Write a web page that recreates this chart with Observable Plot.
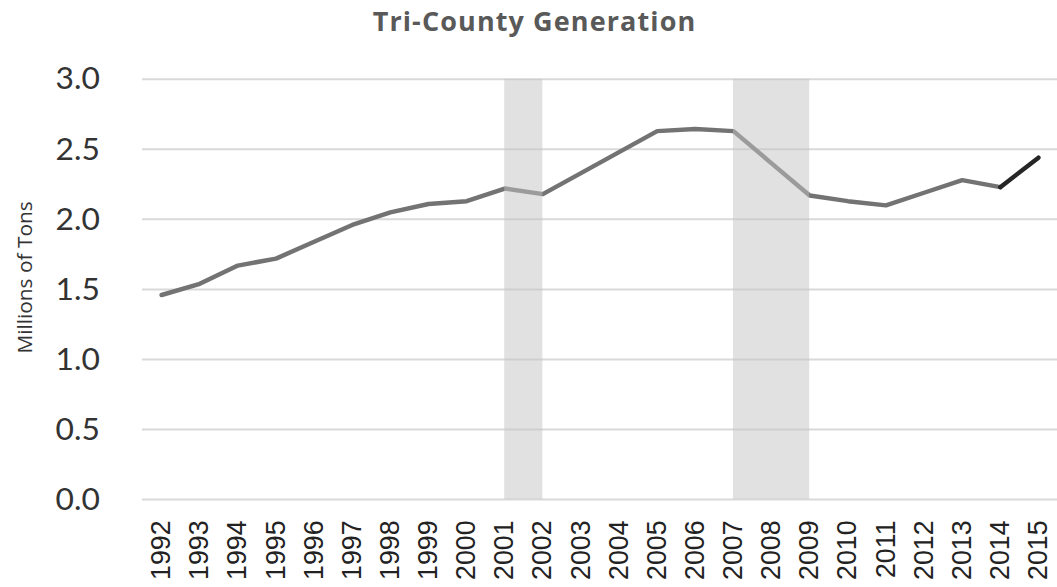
<!DOCTYPE html>
<html>
<head>
<meta charset="utf-8">
<script src="https://cdn.jsdelivr.net/npm/d3@7"></script>
<script src="https://cdn.jsdelivr.net/npm/@observablehq/plot@0.6"></script>
<style>
  body { margin: 0; background: #fff; }
  #wrap { width: 1057px; height: 587px; overflow: hidden; position: relative; }
  #title { height: 48px; line-height: 41px; text-align: center; padding-left: 12px; box-sizing: border-box;
           font-family: "Open Sans", sans-serif; font-weight: bold; font-size: 27px; letter-spacing: 1.1px; color: #595959; }
  svg [aria-label="y-axis tick label"] text { font-family: Lato, sans-serif; }
</style>
</head>
<body>
<div id="wrap">
  <div id="title">Tri-County Generation</div>
  <div id="chart"></div>
</div>
<script>
const years = [1992,1993,1994,1995,1996,1997,1998,1999,2000,2001,2002,2003,2004,2005,2006,2007,2008,2009,2010,2011,2012,2013,2014,2015];
const values = [1.46,1.54,1.67,1.72,1.84,1.96,2.05,2.11,2.13,2.22,2.18,2.33,2.48,2.63,2.645,2.63,2.40,2.17,2.13,2.10,2.19,2.28,2.23,2.44];
const shadeStart = [2001, 2007];
const shadeEnd = [2002, 2009];
const yTicks = [0, 0.5, 1.0, 1.5, 2.0, 2.5, 3.0];
const yLabel = "Millions of Tons";

const data = years.map((year, i) => ({year, value: values[i]}));
const shades = shadeStart.map((s, i) => ({start: s, end: shadeEnd[i]}));
const lastYear = years[years.length - 2];

const chart = Plot.plot({
  width: 1064,
  height: 539,
  marginLeft: 143,
  marginRight: 0,
  marginTop: 31,
  marginBottom: 85,
  x: {domain: [1991.5, 2015.5]},
  y: {domain: [0, 3]},
  marks: [
    Plot.gridY(yTicks, {stroke: "#d9d9d9", strokeOpacity: 1, strokeWidth: 2}),
    Plot.axisY(yTicks, {tickSize: 0, tickPadding: 43, tickFormat: d3.format(".1f"), fontSize: 32, fill: "#333", label: null}),
    Plot.axisX(years, {tickSize: 0, tickPadding: 21, tickFormat: d => String(d), tickRotate: -90, fontSize: 27, fill: "#222", label: null, fontFamily: "Liberation Sans, Arial, sans-serif"}),
    Plot.lineY(data.filter(d => d.year <= lastYear), {x: "year", y: "value", stroke: "#737373", strokeWidth: 4.5, strokeLinejoin: "round", strokeLinecap: "round"}),
    Plot.lineY(data.filter(d => d.year >= lastYear), {x: "year", y: "value", stroke: "#262626", strokeWidth: 4.5, strokeLinejoin: "round", strokeLinecap: "round"}),
    Plot.rect(shades, {x1: "start", x2: "end", fill: "#c4c4c4", fillOpacity: 0.5}),
    Plot.text([yLabel], {frameAnchor: "left", textAnchor: "middle", rotate: -90, dx: -118, dy: -12, fontSize: 21, fill: "#333", fontFamily: "Open Sans, sans-serif"})
  ]
});

document.getElementById("chart").appendChild(chart);
</script>
</body>
</html>
